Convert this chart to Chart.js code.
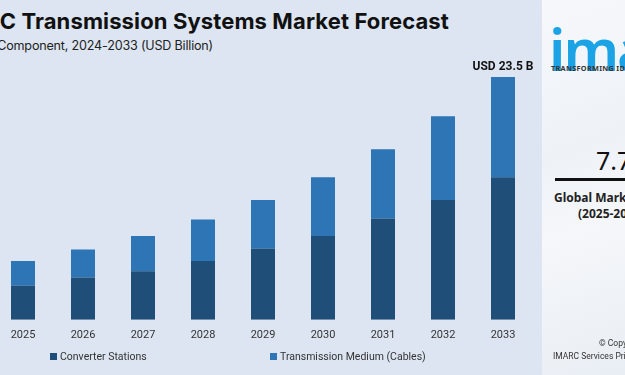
<!DOCTYPE html>
<html>
<head>
<meta charset="utf-8">
<script src="https://cdn.jsdelivr.net/npm/chart.js@4"></script>
<style>
  html, body { margin:0; padding:0; }
  body { width:625px; height:375px; overflow:hidden; position:relative; background:#dce5f1; font-family: Roboto, "Noto Sans", sans-serif; }
  #main { position:absolute; left:0; top:0; width:542px; height:370px; background:#dce5f1; }
  #title { position:absolute; right:93px; top:8px; white-space:nowrap; font-family: Inter, "Noto Sans", sans-serif; font-weight:700; font-size:22px; color:#111; letter-spacing:0.12px; }
  #subtitle { position:absolute; right:329px; top:38px; white-space:nowrap; font-family: Inter, "Noto Sans", sans-serif; font-size:12.6px; color:#222; letter-spacing:-0.2px; }
  #chartWrap { position:absolute; left:-7px; top:0; width:540px; height:351px; }
  .leg { position:absolute; top:350px; font-size:10.5px; color:#333; white-space:nowrap; }
  .leg span.sw { display:inline-block; width:7px; height:7px; margin-right:3px; vertical-align:0px; }
  #panel { position:absolute; left:542px; top:0; width:83px; height:375px; background:linear-gradient(160deg,#f6f8fb 0%,#eef2f7 40%,#f5f7fa 60%,#e9eef4 100%); overflow:hidden; }
  #logo { position:absolute; left:7px; top:20px; font-family: "Noto Sans", sans-serif; font-weight:600; font-size:58px; color:#1ba3e6; letter-spacing:-2px; white-space:nowrap; line-height:1; }
  #tag { position:absolute; left:9px; top:63px; font-family: "Noto Sans", sans-serif; font-weight:700; font-size:7.3px; color:#333; letter-spacing:0.3px; white-space:nowrap; }
  #cagr { position:absolute; left:54px; top:145px; font-family: "Noto Sans", sans-serif; font-size:25px; color:#111; white-space:nowrap; line-height:1.2; }
  #rule { position:absolute; left:13px; top:178px; width:100px; height:3px; background:#111; }
  #gm { position:absolute; left:12px; top:189px; font-family: "Noto Sans", sans-serif; font-weight:700; font-size:12px; color:#222; white-space:nowrap; }
  #yrs { position:absolute; left:36px; top:205px; font-family: "Noto Sans", sans-serif; font-weight:700; font-size:12px; color:#222; white-space:nowrap; }
  #cp1 { position:absolute; left:57px; top:338px; font-size:8.5px; color:#333; white-space:nowrap; }
  #cp2 { position:absolute; left:11px; top:351px; font-size:8.5px; color:#333; white-space:nowrap; }
</style>
</head>
<body>
<div id="main">
  <div id="title">HVDC Transmission Systems Market Forecast</div>
  <div id="subtitle">Market Breakup by Component, 2024-2033 (USD Billion)</div>
  <div id="chartWrap"><canvas id="c"></canvas></div>
  <div class="leg" style="left:50px"><span class="sw" style="background:#1f4e79"></span>Converter Stations</div>
  <div class="leg" style="left:270px"><span class="sw" style="background:#2e75b6"></span>Transmission Medium (Cables)</div>
</div>
<div id="panel">
  <div id="logo">imarc</div>
  <div id="tag">TRANSFORMING IDEAS INTO IMPACT</div>
  <div id="cagr">7.7%</div>
  <div id="rule"></div>
  <div id="gm">Global Market Growth Rate</div>
  <div id="yrs">(2025-2033)</div>
  <div id="cp1">© Copyright</div>
  <div id="cp2">IMARC Services Private Limited</div>
</div>
<script>
const years = ["2025","2026","2027","2028","2029","2030","2031","2032","2033"];
const converterStations = [3.3, 4.1, 4.7, 5.7, 6.9, 8.1, 9.8, 11.6, 13.8];
const transmissionMedium = [2.4, 2.7, 3.4, 4.0, 4.7, 5.7, 6.7, 8.1, 9.7];
const seriesNames = ["Converter Stations", "Transmission Medium (Cables)"];
const finalLabel = "USD 23.5 B";

const topLabel = {
  id: 'topLabel',
  afterDatasetsDraw(chart) {
    const meta = chart.getDatasetMeta(1);
    const el = meta.data[meta.data.length - 1];
    const ctx = chart.ctx;
    ctx.save();
    ctx.font = 'bold 12px Roboto, "Noto Sans", sans-serif';
    ctx.fillStyle = '#111';
    ctx.textAlign = 'center';
    ctx.textBaseline = 'bottom';
    ctx.fillText(finalLabel, el.x, el.y - 4);
    ctx.restore();
  }
};

new Chart(document.getElementById('c'), {
  type: 'bar',
  data: {
    labels: years,
    datasets: [
      { label: seriesNames[0], data: converterStations, backgroundColor: '#1f4e79', categoryPercentage: 1, barPercentage: 0.4 },
      { label: seriesNames[1], data: transmissionMedium, backgroundColor: '#2e75b6', categoryPercentage: 1, barPercentage: 0.4 }
    ]
  },
  options: {
    responsive: true,
    maintainAspectRatio: false,
    animation: false,
    layout: { padding: { top: 61.5, left: 0, right: 0, bottom: 0 } },
    plugins: { legend: { display: false }, tooltip: { enabled: false } },
    scales: {
      x: {
        stacked: true,
        grid: { display: false, drawTicks: false },
        border: { display: false },
        ticks: { color: '#333', font: { family: 'Roboto, "Noto Sans", sans-serif', size: 11 }, padding: 9 }
      },
      y: {
        stacked: true,
        display: false,
        min: 0,
        max: 25
      }
    }
  },
  plugins: [topLabel]
});
</script>
</body>
</html>
